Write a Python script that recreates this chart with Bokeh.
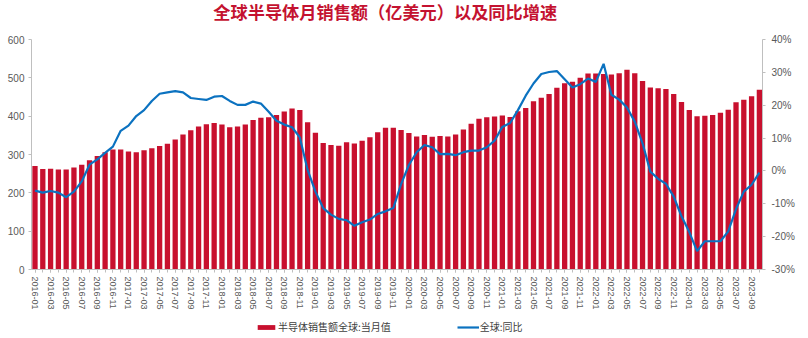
from bokeh.plotting import figure
from bokeh.layouts import column
from bokeh.models import (Range1d, LinearAxis, FixedTicker, PrintfTickFormatter,
                          Legend, LegendItem, ColumnDataSource, Label)
from bokeh.embed import file_html
from bokeh.resources import INLINE

months = [f"{y}-{m:02d}" for y in range(2016, 2024) for m in range(1, 13)][:94]

sales = [
    270, 262, 263, 261, 261, 266, 273, 285, 296, 306, 313, 313,
    308, 306, 311, 316, 322, 328, 339, 352, 363, 373, 379, 382,
    378, 371, 373, 378, 390, 396, 397, 403, 412, 420, 416, 384,
    357, 330, 325, 323, 332, 329, 336, 345, 358, 370, 370, 364,
    356, 347, 351, 346, 348, 347, 352, 365, 380, 393, 397, 399,
    402, 398, 413, 421, 439, 448, 458, 474, 486, 490, 500, 511,
    511, 510, 509, 512, 521, 512, 492, 475, 473, 471, 458, 437,
    416, 400, 401, 403, 409, 417, 436, 443, 452, 469,
]

yoy = [
    -6.0, -6.6, -6.1, -6.6, -8.0, -6.3, -3.2, 1.9, 3.5, 5.5, 7.4, 12.2,
    13.8, 16.7, 18.5, 21.3, 23.5, 23.9, 24.3, 23.9, 22.2, 21.9, 21.6, 22.6,
    22.8, 21.3, 20.1, 20.1, 21.1, 20.5, 18.0, 15.3, 14.1, 13.3, 10.2, 0.3,
    -6.3, -11.3, -13.3, -14.6, -15.0, -16.7, -15.6, -14.8, -13.1, -12.3, -11.3, -4.0,
    1.8, 5.7, 7.9, 7.2, 5.1, 5.2, 4.8, 5.7, 6.2, 6.2, 7.2, 9.2,
    13.4, 14.6, 18.5, 22.9, 26.6, 29.5, 30.1, 30.4, 27.9, 25.4, 26.4, 28.1,
    27.1, 32.6, 23.2, 21.7, 19.3, 15.0, 8.4, -0.2, -2.4, -3.9, -7.8, -13.8,
    -18.6, -24.4, -21.4, -21.4, -21.4, -18.4, -11.6, -6.3, -4.2, -0.5,
]

left_ticks = [0, 100, 200, 300, 400, 500, 600]
right_ticks = [-30, -20, -10, 0, 10, 20, 30, 40]

title_text = "全球半导体月销售额（亿美元）以及同比增速"
bar_label = "半导体销售额全球:当月值"
line_label = "全球:同比"

BAR_COLOR = "#C8102E"
LINE_COLOR = "#0B72C0"
W = 808

idx = list(range(len(months)))
src = ColumnDataSource(dict(x=idx, sales=sales, yoy=yoy, month=months))

# ---- title strip ----
TH = 33
tf = figure(width=W, height=TH, output_backend="svg", toolbar_location=None,
            x_range=Range1d(0, W), y_range=Range1d(0, TH),
            x_axis_location=None, y_axis_location=None,
            min_border=0, outline_line_color=None)
tf.xgrid.visible = False
tf.ygrid.visible = False
tf.add_layout(Label(x=391, y=TH - 12, text=title_text, text_align="center",
                    text_baseline="middle", text_font="Noto Sans CJK SC",
                    text_font_size="17.2px", text_font_style="bold",
                    text_color="#C41230", y_offset=1))

# ---- main chart ----
p = figure(width=W, height=279, output_backend="svg", toolbar_location=None,
           x_range=Range1d(-0.45, 93.4), y_range=Range1d(0, 600),
           x_axis_location=None, y_axis_location=None,
           min_border_left=31, min_border_right=46, min_border_top=6,
           min_border_bottom=42, outline_line_color=None)
p.extra_y_ranges = {"pct": Range1d(-30, 40)}
p.xgrid.visible = False
p.ygrid.visible = False

bars = p.vbar(x="x", top="sales", width=0.68, source=src,
              fill_color=BAR_COLOR, line_color=None)
line = p.line(x="x", y="yoy", source=src, y_range_name="pct",
              line_color=LINE_COLOR, line_width=2.2)

axis_color = "#BFBFBF"
label_color = "#595959"

ly = LinearAxis(ticker=FixedTicker(ticks=left_ticks))
ly.axis_line_color = axis_color
ly.major_tick_line_color = axis_color
ly.major_tick_out = 3
ly.major_tick_in = 0
ly.minor_tick_line_color = None
ly.major_label_text_font = "Liberation Sans"
ly.major_label_text_font_size = "10px"
ly.major_label_text_color = label_color
ly.major_label_standoff = 4
p.add_layout(ly, "left")

ry = LinearAxis(y_range_name="pct", ticker=FixedTicker(ticks=right_ticks),
                formatter=PrintfTickFormatter(format="%d%%"))
ry.axis_line_color = axis_color
ry.major_tick_line_color = axis_color
ry.major_tick_out = 3
ry.major_tick_in = 0
ry.minor_tick_line_color = None
ry.major_label_text_font = "Liberation Sans"
ry.major_label_text_font_size = "10px"
ry.major_label_text_color = label_color
ry.major_label_standoff = 6
p.add_layout(ry, "right")

even = [i for i in idx if i % 2 == 0]
xa = LinearAxis(ticker=FixedTicker(ticks=even, minor_ticks=idx),
                major_label_overrides={i: months[i] for i in even})
xa.axis_line_color = axis_color
xa.major_tick_line_color = axis_color
xa.minor_tick_line_color = axis_color
xa.major_tick_out = 3
xa.major_tick_in = 0
xa.minor_tick_out = 3
xa.minor_tick_in = 0
xa.major_label_orientation = "vertical"
xa.major_label_text_font = "Liberation Sans"
xa.major_label_text_font_size = "9px"
xa.major_label_text_color = label_color
xa.major_label_standoff = 4
p.add_layout(xa, "below")

# ---- legend strip (renderers share the data, drawn out of view) ----
lf = figure(width=W, height=26, output_backend="svg", toolbar_location=None,
            x_range=Range1d(-0.45, 93.4), y_range=Range1d(5000, 5001),
            x_axis_location=None, y_axis_location=None,
            min_border=0, outline_line_color=None)
lf.xgrid.visible = False
lf.ygrid.visible = False
lb = lf.vbar(x="x", top="sales", width=0.68, source=src,
             fill_color=BAR_COLOR, line_color=None)
ll = lf.line(x="x", y="yoy", source=src, line_color=LINE_COLOR, line_width=2.2)
legend = Legend(items=[LegendItem(label=bar_label, renderers=[lb]),
                       LegendItem(label=line_label, renderers=[ll])],
                orientation="horizontal", location=(224, 4),
                border_line_alpha=0, background_fill_alpha=0,
                label_text_font="Noto Sans CJK SC", label_text_font_size="10px",
                label_text_color="#404040", glyph_width=22, glyph_height=6,
                spacing=66, padding=0, margin=0, label_standoff=1,
                label_height=12)
lf.add_layout(legend, "center")

layout = column(tf, p, lf, spacing=0)
open("out.html", "w").write(file_html(layout, INLINE))
